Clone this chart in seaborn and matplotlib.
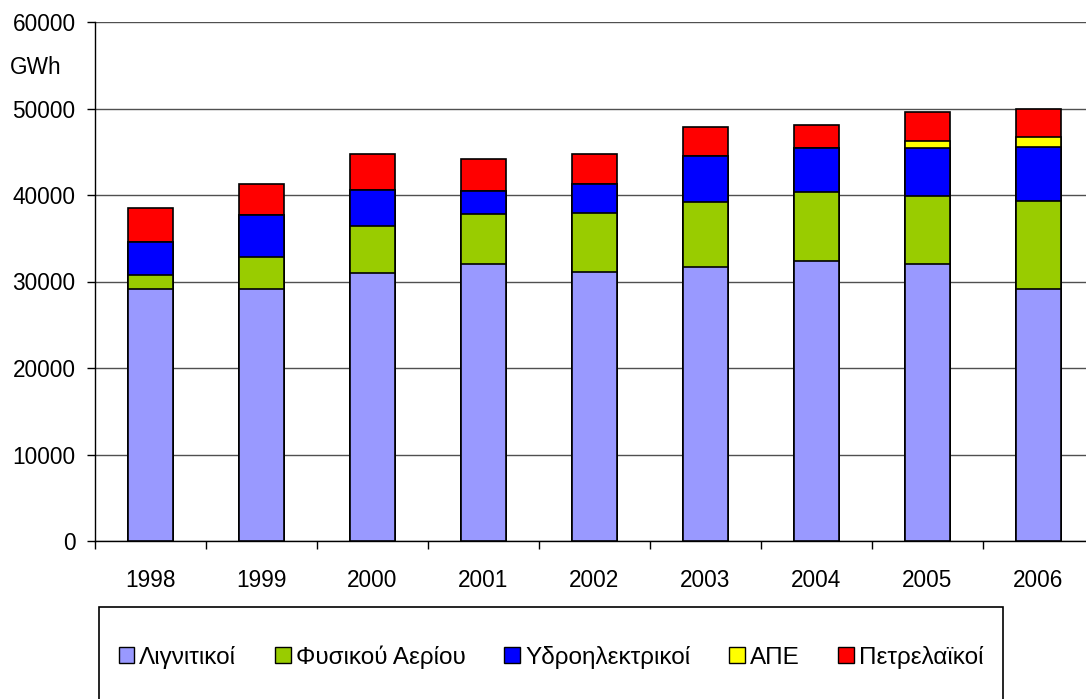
import numpy as np
import pandas as pd
import matplotlib
matplotlib.use("Agg")
import matplotlib.pyplot as plt
from matplotlib.patches import Patch, Rectangle
import seaborn as sns

# --- Données (GWh) ---
years = ["1998", "1999", "2000", "2001", "2002", "2003", "2004", "2005", "2006"]
lignite = [29100, 29130, 30950, 32000, 31140, 31640, 32330, 32020, 29100]
gas = [1600, 3740, 5500, 5780, 6750, 7590, 8050, 7860, 10170]
hydro = [3850, 4820, 4090, 2730, 3420, 5280, 5020, 5520, 6240]
res = [0, 0, 0, 0, 0, 0, 0, 880, 1140]
oil = [3900, 3550, 4240, 3620, 3470, 3310, 2730, 3280, 3290]

labels = ["Λιγνιτικοί", "Φυσικού Αερίου", "Υδροηλεκτρικοί", "ΑΠΕ", "Πετρελαϊκοί"]
colors = ["#9999FF", "#99CC00", "#0000FF", "#FFFF00", "#FF0000"]

sns.set_theme(style="white")
plt.rcParams["font.family"] = ["Liberation Sans", "DejaVu Sans"]
plt.rcParams["text.color"] = "black"
plt.rcParams["xtick.color"] = "black"
plt.rcParams["ytick.color"] = "black"

df = pd.DataFrame({"year": years, "L": lignite, "G": gas, "H": hydro, "R": res, "O": oil})
cols = ["L", "G", "H", "R", "O"]
cum = df[cols].cumsum(axis=1)

fig = plt.figure(figsize=(10.86, 6.99), dpi=100)
ax = fig.add_axes([95 / 1086, 1 - 541 / 699, 999 / 1086, 519 / 699])

# on dessine du haut vers le bas pour empiler
for i in range(len(cols) - 1, -1, -1):
    sns.barplot(x=df["year"], y=cum[cols[i]], color=colors[i], width=0.4,
                edgecolor="black", linewidth=1.2, saturation=1, ax=ax, zorder=3)

ax.set_xlim(-0.5, len(years) - 0.5)
ax.set_ylim(0, 60000)
ax.set_yticks(np.arange(0, 60001, 10000))
ax.yaxis.grid(True, color="#505050", linewidth=1)
ax.set_axisbelow(True)
ax.set_xlabel("")
ax.set_ylabel("")

for s in ["top", "right"]:
    ax.spines[s].set_visible(False)
for s in ["left", "bottom"]:
    ax.spines[s].set_color("black")
    ax.spines[s].set_linewidth(1)

ax.tick_params(axis="y", direction="out", length=6, width=1, color="black",
               pad=8, labelsize=16.3, left=True, labelcolor="black")
ax.tick_params(axis="x", which="major", length=0, pad=20, labelsize=16.3, labelcolor="black")
ax.set_xticks(np.arange(-0.5, len(years), 1), minor=True)
ax.tick_params(axis="x", which="minor", direction="out", length=6, width=1,
               color="black", bottom=True)

fig.text(10 / 1086, 1 - 68 / 699, "GWh", fontsize=16.3, va="center", ha="left")

# Cadre de la légende
fig.patches.append(Rectangle((99 / 1086, -0.05), (1003 - 99) / 1086, (699 - 607) / 699 + 0.05,
                             transform=fig.transFigure, fill=False, edgecolor="black",
                             linewidth=1.2, clip_on=False))

handles = [Patch(facecolor=c, edgecolor="black", linewidth=1) for c in colors]
fig.legend(handles, labels, loc="center", bbox_to_anchor=(551 / 1086, 1 - 657 / 699),
           ncol=5, frameon=False, fontsize=17.5, handlelength=0.65, handleheight=0.65,
           handletextpad=0.2, columnspacing=1.6, borderpad=0, borderaxespad=0)

plt.savefig("out.png", dpi=100)
